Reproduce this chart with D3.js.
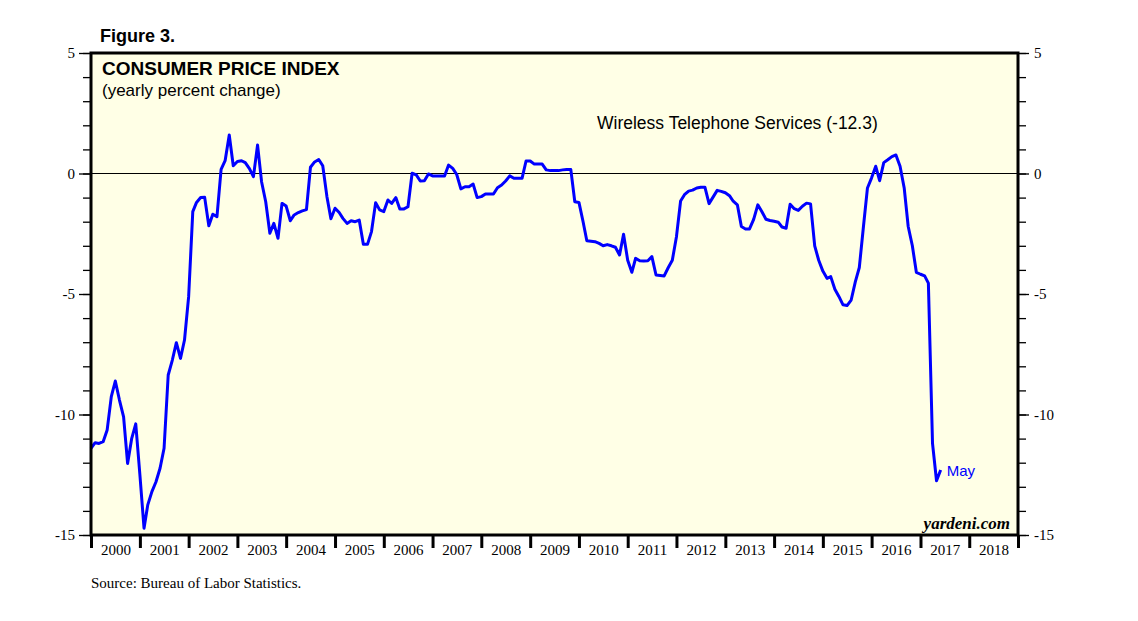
<!DOCTYPE html>
<html>
<head>
<meta charset="utf-8">
<script src="https://cdn.jsdelivr.net/npm/d3@7"></script>
<style>
  body { margin: 0; background: #fff; }
  svg { display: block; }
  .sans { font-family: "Liberation Sans", Arial, sans-serif; }
  .serif { font-family: "Liberation Serif", "Times New Roman", serif; }
</style>
</head>
<body>
<svg id="chart" width="1138" height="621"></svg>
<script>
// CPI: wireless telephone services, yearly % change, monthly Dec 1999 .. May 2017
let firstMonth = new Date(1999, 11, 1)
let wirelessCpi = [
  -11.4,
  -11.17, -11.2, -11.13, -10.64, -9.26, -8.61, -9.4, -10.1, -12.03, -10.99, -10.39, -12.5,     // 2000
  -14.72, -13.75, -13.2, -12.8, -12.23, -11.4, -8.36, -7.74, -7.02, -7.67, -6.91, -5.11,       // 2001
  -1.58, -1.2, -1.0, -0.99, -2.17, -1.69, -1.79, 0.17, 0.53, 1.6, 0.32, 0.5,                   // 2002
  0.53, 0.45, 0.2, -0.13, 1.18, -0.34, -1.17, -2.48, -2.07, -2.69, -1.24, -1.35,               // 2003
  -1.96, -1.72, -1.62, -1.55, -1.5, 0.26, 0.48, 0.58, 0.32, -0.95, -1.88, -1.44,               // 2004
  -1.62, -1.86, -2.07, -1.96, -2.0, -1.93, -2.94, -2.94, -2.41, -1.21, -1.51, -1.58,           // 2005
  -1.1, -1.24, -1.0, -1.47, -1.47, -1.38, 0.01, -0.06, -0.31, -0.3, -0.02, -0.1,               // 2006
  -0.1, -0.1, -0.1, 0.35, 0.21, -0.04, -0.64, -0.55, -0.55, -0.44, -1.0, -0.96,                // 2007
  -0.85, -0.85, -0.85, -0.59, -0.48, -0.31, -0.1, -0.2, -0.2, -0.2, 0.52, 0.52,                // 2008
  0.39, 0.39, 0.39, 0.15, 0.12, 0.12, 0.12, 0.15, 0.17, 0.17, -1.17, -1.2,                     // 2009
  -2.0, -2.79, -2.81, -2.83, -2.9, -3.0, -2.95, -3.0, -3.06, -3.38, -2.52, -3.6,               // 2010
  -4.1, -3.52, -3.62, -3.63, -3.62, -3.45, -4.21, -4.23, -4.25, -3.9, -3.6, -2.62,             // 2011
  -1.14, -0.88, -0.73, -0.69, -0.6, -0.57, -0.57, -1.25, -0.98, -0.7, -0.74, -0.8,             // 2012
  -0.92, -1.15, -1.3, -2.2, -2.3, -2.3, -1.9, -1.3, -1.58, -1.9, -1.95, -1.98,                 // 2013
  -2.02, -2.22, -2.27, -1.28, -1.46, -1.53, -1.36, -1.23, -1.26, -3.0, -3.6, -4.05,            // 2014
  -4.35, -4.28, -4.8, -5.1, -5.45, -5.48, -5.25, -4.5, -3.9, -2.2, -0.6, -0.18,                // 2015
  0.3, -0.3, 0.45, 0.57, 0.7, 0.77, 0.3, -0.6, -2.2, -3.0, -4.1, -4.18,                        // 2016
  -4.25, -4.55, -11.2, -12.75, -12.3                                                           // 2017 (Jan-May)
]
let yearLabels = d3.range(2000, 2019)
let yMajorTicks = [-15, -10, -5, 0, 5]
let yMinorTicks = d3.range(-15, 6, 1)

let svg = d3.select('#chart')

let plotLeft = 91, plotRight = 1018, plotTop = 53, plotBottom = 535

let x = d3.scaleTime()
  .domain([new Date(2000, 0, 1), new Date(2019, 0, 1)])
  .range([plotLeft, plotRight])
let y = d3.scaleLinear()
  .domain([-15, 5])
  .range([plotBottom, plotTop])

// each month is drawn at month end
let points = wirelessCpi.map((v, i) => ({ date: d3.timeMonth.offset(firstMonth, i + 1), value: v }))

// plain hyphen for negatives, like the original
let fmtTick = d => String(d)

svg.append('rect')
  .attr('x', plotLeft).attr('y', plotTop)
  .attr('width', plotRight - plotLeft).attr('height', plotBottom - plotTop)
  .attr('fill', '#ffffe6')

svg.append('line')
  .attr('x1', plotLeft).attr('x2', plotRight)
  .attr('y1', y(0)).attr('y2', y(0))
  .attr('stroke', '#000').attr('stroke-width', 1.2)

let styleAxis = (g, width) => {
  g.select('.domain').remove()
  g.selectAll('.tick line').attr('stroke', '#000').attr('stroke-width', width)
  g.selectAll('.tick text')
    .attr('class', 'serif')
    .attr('font-size', 15)
    .attr('fill', '#000')
}

// left axis
svg.append('g')
  .attr('transform', `translate(${plotLeft},0)`)
  .call(d3.axisLeft(y).tickValues(yMinorTicks).tickSize(8).tickFormat(''))
  .call(g => styleAxis(g, 1.3))
svg.append('g')
  .attr('transform', `translate(${plotLeft},0)`)
  .call(d3.axisLeft(y).tickValues(yMajorTicks).tickSize(12).tickPadding(4).tickFormat(fmtTick))
  .call(g => styleAxis(g, 1.3))

// right axis
svg.append('g')
  .attr('transform', `translate(${plotRight},0)`)
  .call(d3.axisRight(y).tickValues(yMinorTicks).tickSize(8).tickFormat(''))
  .call(g => styleAxis(g, 1.3))
svg.append('g')
  .attr('transform', `translate(${plotRight},0)`)
  .call(d3.axisRight(y).tickValues(yMajorTicks).tickSize(11).tickPadding(5).tickFormat(fmtTick))
  .call(g => styleAxis(g, 1.3))

// bottom axis: ticks at year boundaries, labels mid-year
svg.append('g')
  .attr('transform', `translate(0,${plotBottom})`)
  .call(d3.axisBottom(x).tickValues(d3.range(2000, 2020).map(yr => new Date(yr, 0, 1))).tickSize(13).tickFormat(''))
  .call(g => styleAxis(g, 3))
svg.append('g')
  .attr('transform', `translate(0,${plotBottom})`)
  .call(d3.axisBottom(x).tickValues(yearLabels.map(yr => new Date(yr, 6, 2))).tickSize(0).tickPadding(9).tickFormat(d3.timeFormat('%Y')))
  .call(g => styleAxis(g, 0))

// data line
svg.append('path')
  .datum(points)
  .attr('d', d3.line().x(d => x(d.date)).y(d => y(d.value)))
  .attr('fill', 'none')
  .attr('stroke', '#0000ff')
  .attr('stroke-width', 3)
  .attr('stroke-linejoin', 'round')

// frame
svg.append('rect')
  .attr('x', plotLeft).attr('y', plotTop)
  .attr('width', plotRight - plotLeft).attr('height', plotBottom - plotTop)
  .attr('fill', 'none')
  .attr('stroke', '#000')
  .attr('stroke-width', 3)

// texts
let last = points[points.length - 1]
svg.append('text').attr('class', 'sans')
  .attr('x', x(last.date) + 6).attr('y', y(last.value) + 6)
  .attr('font-size', 15).attr('fill', '#0000ff')
  .text('May')

svg.append('text').attr('class', 'sans')
  .attr('x', 100).attr('y', 42)
  .attr('font-size', 18).attr('font-weight', 'bold')
  .text('Figure 3.')
svg.append('text').attr('class', 'sans')
  .attr('x', 102).attr('y', 75)
  .attr('font-size', 19).attr('font-weight', 'bold')
  .text('CONSUMER PRICE INDEX')
svg.append('text').attr('class', 'sans')
  .attr('x', 102).attr('y', 96)
  .attr('font-size', 17)
  .text('(yearly percent change)')
svg.append('text').attr('class', 'sans')
  .attr('x', 597).attr('y', 129)
  .attr('font-size', 17.5)
  .text('Wireless Telephone Services (-12.3)')
svg.append('text').attr('class', 'serif')
  .attr('x', 1010).attr('y', 529)
  .attr('text-anchor', 'end')
  .attr('font-size', 17).attr('font-weight', 'bold').attr('font-style', 'italic')
  .text('yardeni.com')
svg.append('text').attr('class', 'serif')
  .attr('x', 91).attr('y', 588)
  .attr('font-size', 15)
  .text('Source: Bureau of Labor Statistics.')
</script>
</body>
</html>
